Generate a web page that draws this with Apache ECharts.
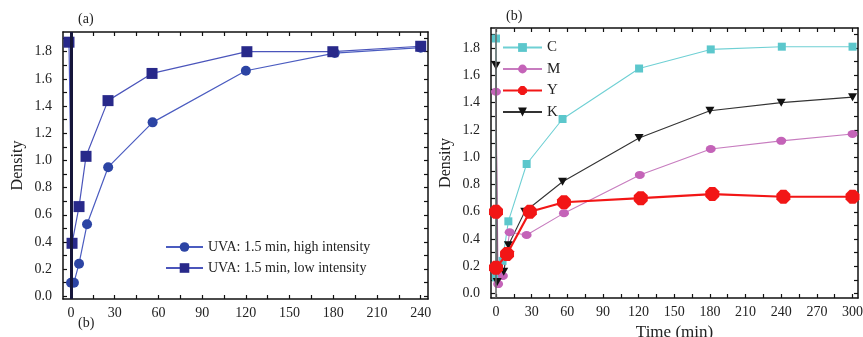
<!DOCTYPE html>
<html>
<head>
<meta charset="utf-8">
<script src="https://cdn.jsdelivr.net/npm/echarts@6.0.0/dist/echarts.min.js"></script>
<style>
  html, body { margin: 0; padding: 0; background: #fff; }
  #main { width: 863px; height: 337px; }
</style>
</head>
<body>
<div id="main"></div>
<script>
// 数据 (a)
var highIntensity = [[0, 0.10], [2, 0.10], [5.5, 0.24], [11, 0.53], [25.5, 0.95], [56, 1.28], [120, 1.66], [181, 1.79], [240, 1.83]];
var lowIntensity = [[-1.4, 1.87], [0.7, 0.39], [5.5, 0.66], [10.3, 1.03], [25.4, 1.44], [55.6, 1.64], [120.7, 1.80], [179.7, 1.80], [240, 1.84]];

// 数据 (b)
var seriesC = [[0, 1.87], [0, 0.12], [5.5, 0.24], [10.4, 0.53], [25.8, 0.95], [56, 1.28], [120.4, 1.65], [180.7, 1.79], [240.5, 1.81], [300, 1.81]];
var seriesM = [[0, 1.48], [1.8, 0.07], [5.8, 0.13], [11.5, 0.45], [25.8, 0.43], [57.2, 0.59], [121, 0.87], [180.7, 1.06], [240, 1.12], [300, 1.17]];
var seriesY = [[0, 0.19], [9.3, 0.29], [28.5, 0.60], [57.2, 0.67], [121.8, 0.70], [182, 0.73], [241.8, 0.71], [300, 0.71]];
var seriesYStart = [[0, 0.60]];
var seriesK = [[0, 1.67], [1, 0.085], [6.5, 0.16], [10.4, 0.355], [24.2, 0.60], [56, 0.82], [120.4, 1.14], [180, 1.34], [240, 1.40], [300, 1.44]];

// 刻度
var leftXLabels = [0, 30, 60, 90, 120, 150, 180, 210, 240];
var leftXTicks = [0, 15, 30, 45, 60, 75, 90, 105, 120, 135, 150, 165, 180, 195, 210, 225, 240];
var rightXLabels = [0, 30, 60, 90, 120, 150, 180, 210, 240, 270, 300];
var rightXTicks = [0, 15, 30, 45, 60, 75, 90, 105, 120, 135, 150, 165, 180, 195, 210, 225, 240, 255, 270, 285, 300];
var yLabels = [0, 0.2, 0.4, 0.6, 0.8, 1.0, 1.2, 1.4, 1.6, 1.8];
var yTicks = [0, 0.1, 0.2, 0.3, 0.4, 0.5, 0.6, 0.7, 0.8, 0.9, 1.0, 1.1, 1.2, 1.3, 1.4, 1.5, 1.6, 1.7, 1.8, 1.9];

var chart = echarts.init(document.getElementById('main'));

var serif = 'Liberation Serif';
var octagon = 'path://M3,0 L7,0 L10,3 L10,7 L7,10 L3,10 L0,7 L0,3 Z';
var triDown = 'path://M0,0 L10,0 L5,9 Z';

function xAx(grid, pos, min, max, labels, ticks, showLabel) {
    return {
        type: 'value', gridIndex: grid, position: pos, min: min, max: max,
        axisLine: { show: true, onZero: false, lineStyle: { color: '#111', width: 1.5 } },
        axisTick: { show: true, inside: true, length: 4, customValues: ticks, lineStyle: { color: '#111', width: 1.2 } },
        axisLabel: { show: showLabel, customValues: labels, color: '#222', fontFamily: serif, fontSize: 14, margin: 7 },
        splitLine: { show: false }
    };
}
function yAx(grid, pos, min, max, showLabel) {
    return {
        type: 'value', gridIndex: grid, position: pos, min: min, max: max,
        axisLine: { show: true, onZero: false, lineStyle: { color: '#111', width: 1.5 } },
        axisTick: { show: true, inside: true, length: 4, customValues: yTicks, lineStyle: { color: '#111', width: 1.2 } },
        axisLabel: {
            show: showLabel, customValues: yLabels, color: '#222', fontFamily: serif, fontSize: 14, margin: 11,
            formatter: function (v) { return v.toFixed(1); }
        },
        splitLine: { show: false }
    };
}

var xAxes = [
    xAx(0, 'bottom', -5.5, 245, leftXLabels, leftXTicks, true),
    xAx(0, 'top', -5.5, 245, leftXLabels, leftXTicks, false),
    xAx(1, 'bottom', -4.2, 304.6, rightXLabels, rightXTicks, true),
    xAx(1, 'top', -4.2, 304.6, rightXLabels, rightXTicks, false)
];
xAxes[2].name = 'Time (min)';
xAxes[2].nameLocation = 'middle';
xAxes[2].nameGap = 24;
xAxes[2].nameTextStyle = { fontFamily: serif, fontSize: 17, color: '#222' };

var yAxes = [
    yAx(0, 'left', -0.02, 1.945, true),
    yAx(0, 'right', -0.02, 1.945, false),
    yAx(1, 'left', -0.032, 1.947, true),
    yAx(1, 'right', -0.032, 1.947, false)
];
yAxes[0].name = 'Density';
yAxes[2].name = 'Density';
yAxes[0].nameGap = 37;
yAxes[2].nameGap = 37;
[0, 2].forEach(function (i) {
    yAxes[i].nameLocation = 'middle';
    yAxes[i].nameRotate = 90;
    yAxes[i].nameTextStyle = { fontFamily: serif, fontSize: 16, color: '#222' };
});

var option = {
    backgroundColor: '#fff',
    animation: false,
    grid: [
        { left: 63, top: 32, width: 365, height: 267, outerBoundsMode: 'none' },
        { left: 491, top: 28, width: 367, height: 270, outerBoundsMode: 'none' }
    ],
    xAxis: xAxes,
    yAxis: yAxes,
    legend: [
        {
            left: 165, top: 240, padding: 0, orient: 'vertical', itemWidth: 37, itemHeight: 12, itemGap: 7,
            textStyle: { fontFamily: serif, fontSize: 14, color: '#222' },
            data: ['UVA: 1.5 min, high intensity', 'UVA: 1.5 min, low intensity']
        },
        {
            left: 502, top: 40, padding: 0, orient: 'vertical', itemWidth: 39, itemHeight: 11, itemGap: 6.5,
            textStyle: { fontFamily: serif, fontSize: 15, color: '#222' },
            data: ['C', 'M', 'Y', 'K']
        }
    ],
    graphic: [
        { type: 'text', left: 78, top: 12, style: { text: '(a)', font: '14px "Liberation Serif"', fill: '#222' } },
        { type: 'text', left: 78, top: 316, style: { text: '(b)', font: '14px "Liberation Serif"', fill: '#222' } },
        { type: 'text', left: 506, top: 9, style: { text: '(b)', font: '14px "Liberation Serif"', fill: '#222' } }
    ],
    series: [
        {
            name: 'UVA: 1.5 min, high intensity', type: 'line', xAxisIndex: 0, yAxisIndex: 0,
            data: highIntensity, symbol: 'circle', symbolSize: 10,
            itemStyle: { color: '#2c44a4' },
            lineStyle: { color: '#4b5cc0', width: 1.2 },
            markLine: {
                silent: true, symbol: 'none', label: { show: false },
                lineStyle: { color: '#16163a', width: 3, type: 'solid' },
                data: [{ xAxis: 0 }]
            }
        },
        {
            name: 'UVA: 1.5 min, low intensity', type: 'line', xAxisIndex: 0, yAxisIndex: 0,
            data: lowIntensity, symbol: 'rect', symbolSize: 11,
            itemStyle: { color: '#28298a' },
            lineStyle: { color: '#4b55bb', width: 1.2 }
        },
        {
            name: 'C', type: 'line', xAxisIndex: 2, yAxisIndex: 2,
            data: seriesC, symbol: 'rect', symbolSize: 8,
            itemStyle: { color: '#5cc7cc' },
            lineStyle: { color: '#6fd0d4', width: 1.1 },
            markLine: {
                silent: true, symbol: 'none', label: { show: false },
                lineStyle: { color: '#666', width: 1.5, type: 'solid' },
                data: [{ xAxis: 0 }]
            }
        },
        {
            name: 'M', type: 'line', xAxisIndex: 2, yAxisIndex: 2,
            data: seriesM, symbol: 'circle', symbolSize: [10, 8],
            itemStyle: { color: '#c463b8' },
            lineStyle: { color: '#c77cbf', width: 1.1 }
        },
        {
            name: 'Y', type: 'line', xAxisIndex: 2, yAxisIndex: 2,
            data: seriesY, symbol: octagon, symbolSize: 14,
            itemStyle: { color: '#f21616' },
            lineStyle: { color: '#f21616', width: 2.2 },
            z: 5
        },
        {
            name: 'Y', type: 'scatter', xAxisIndex: 2, yAxisIndex: 2,
            data: seriesYStart, symbol: octagon, symbolSize: 14,
            itemStyle: { color: '#f21616', opacity: 1 },
            z: 5
        },
        {
            name: 'K', type: 'line', xAxisIndex: 2, yAxisIndex: 2,
            data: seriesK, symbol: triDown, symbolSize: [9, 8],
            itemStyle: { color: '#111' },
            lineStyle: { color: '#333', width: 1.1 }
        }
    ]
};

chart.setOption(option);
window.onresize = function () { chart.resize(); };
</script>
</body>
</html>
